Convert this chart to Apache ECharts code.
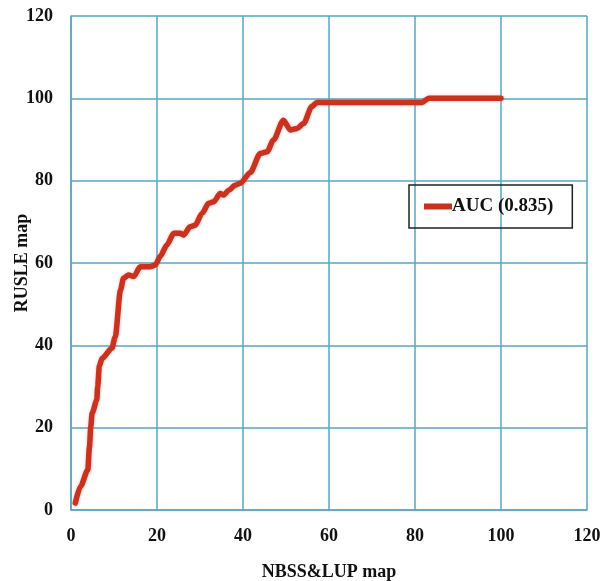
<!DOCTYPE html>
<html>
<head>
<meta charset="utf-8">
<script src="https://cdn.jsdelivr.net/npm/echarts@6/dist/echarts.min.js"></script>
<style>html,body{margin:0;padding:0;background:#fff;}#c{width:608px;height:581px;}</style>
</head>
<body>
<div id="c"></div>
<script>
var seriesName = 'AUC (0.835)';
var xValues = [1.0, 2.2, 3.9, 4.3, 4.6, 4.9, 6.0, 6.2, 6.6, 7.2, 9.5, 10.3, 11.5, 12.2, 13.4, 14.6, 16.1, 18.4, 19.6, 20.8, 22.3, 23.9, 25.4, 26.2, 27.7, 28.9, 30.5, 32.0, 33.2, 34.7, 35.5, 36.7, 38.2, 39.4, 41.7, 44.0, 45.6, 47.1, 49.4, 51.0, 52.6, 54.1, 56.0, 57.2, 81.6, 83.2, 100];
var yValues = [1.7, 5.7, 9.7, 15.4, 20.2, 23.5, 26.7, 30.0, 35.0, 36.8, 39.3, 42.1, 53.4, 56.3, 57.1, 56.7, 59.1, 59.1, 59.5, 61.7, 64.4, 67.2, 67.2, 66.8, 68.8, 69.2, 72.1, 74.5, 74.9, 76.9, 76.5, 77.7, 78.9, 79.4, 82.0, 86.6, 87.0, 89.9, 94.7, 92.3, 92.7, 93.9, 98.0, 99.0, 99.0, 100, 100];
var xTitle = 'NBSS&LUP map';
var yTitle = 'RUSLE map';

var data = xValues.map(function (x, i) { return [x, yValues[i]]; });
var gridColor = '#55a7c6';
var font = "'Liberation Serif','Times New Roman',serif";
var chart = echarts.init(document.getElementById('c'));
chart.setOption({
  animation: false,
  backgroundColor: '#fff',
  grid: { left: 71, right: 21, top: 16, bottom: 71, containLabel: false, outerBoundsMode: 'none' },
  legend: {
    left: 409, top: 185,
    padding: [12, 19, 12, 15],
    borderColor: '#222', borderWidth: 1.5,
    itemWidth: 28, itemHeight: 6,
    icon: 'rect',
    textStyle: { fontFamily: font, fontWeight: 'bold', fontSize: 19, color: '#111', padding: [0, 0, 0, -5] },
    data: [seriesName]
  },
  xAxis: {
    type: 'value', min: 0, max: 120, interval: 20,
    name: xTitle, nameLocation: 'middle', nameGap: 53, nameMoveOverlap: false,
    nameTextStyle: { fontFamily: font, fontWeight: 'bold', fontSize: 18, color: '#111' },
    axisLine: { show: true, lineStyle: { color: gridColor, width: 1.5 } },
    axisTick: { show: false },
    axisLabel: { fontFamily: font, fontWeight: 'bold', fontSize: 18, color: '#111', margin: 17 },
    splitLine: { show: true, lineStyle: { color: gridColor, width: 1.5 } }
  },
  yAxis: {
    type: 'value', min: 0, max: 120, interval: 20,
    name: yTitle, nameLocation: 'middle', nameGap: 40, nameRotate: 90, nameMoveOverlap: false,
    nameTextStyle: { fontFamily: font, fontWeight: 'bold', fontSize: 18, color: '#111' },
    axisLine: { show: true, lineStyle: { color: gridColor, width: 1.5 } },
    axisTick: { show: false },
    axisLabel: { fontFamily: font, fontWeight: 'bold', fontSize: 18, color: '#111', margin: 18 },
    splitLine: { show: true, lineStyle: { color: gridColor, width: 1.5 } }
  },
  series: [{
    name: seriesName,
    type: 'line',
    data: data,
    symbol: 'none',
    smooth: 0.25,
    smoothMonotone: 'x',
    itemStyle: { color: '#c8321e' },
    lineStyle: { color: '#c8321e', width: 5.5, shadowColor: 'rgba(230,80,70,0.45)', shadowBlur: 3, cap: 'round', join: 'round' }
  }]
});
</script>
</body>
</html>
